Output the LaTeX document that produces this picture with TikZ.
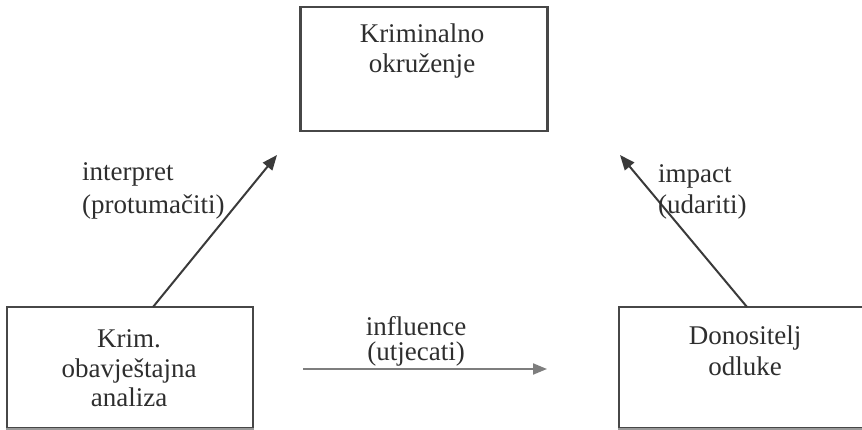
\documentclass[tikz,border=0pt]{standalone}
\usepackage{fontspec}
\setmainfont{Liberation Serif}
\usetikzlibrary{arrows.meta}
\definecolor{ink}{HTML}{2E2E2E}
\definecolor{edge}{HTML}{474747}
\definecolor{lightedge}{HTML}{9A9A9A}
\definecolor{arrowdark}{HTML}{3A3A3A}
\definecolor{arrowgray}{HTML}{7E7E7E}
\tikzset{
  boxnode/.style={draw=edge, line width=2.3pt, rectangle, inner sep=0pt},
  txt/.style={anchor=base, inner sep=0pt, text=ink, font=\fontsize{27}{30}\selectfont},
  lbl/.style={anchor=base west, inner sep=0pt, text=ink, font=\fontsize{27}{30}\selectfont},
  ctrlbl/.style={anchor=base, inner sep=0pt, text=ink, font=\fontsize{27}{30}\selectfont},
  darrow/.style={draw=arrowdark, line width=2pt, -{Triangle[length=15pt,width=12pt]}},
  garrow/.style={draw=arrowgray, line width=2pt, -{Triangle[length=14pt,width=11pt]}},
}
\begin{document}
\begin{tikzpicture}[x=1pt,y=-1pt]
\useasboundingbox (0,0) rectangle (862,430);
% boxes
\node[boxnode, minimum width=247pt, minimum height=124pt] (top) at (424,69) {};
\node[boxnode, minimum width=246pt, minimum height=121pt] (lbox) at (130,367.5) {};
\node[boxnode, minimum width=252pt, minimum height=121pt] (rbox) at (745,367.5) {};
\draw[lightedge, line width=2.3pt] (lbox.south west) -- (lbox.south east);
\draw[lightedge, line width=2.3pt] (rbox.south west) -- (rbox.south east);
% box texts
\node[txt] (top1) at (422,43) {Kriminalno};
\node[txt] (top2) at (422,73) {okruženje};
\node[txt] (l1) at (129,347) {Krim.};
\node[txt] (l2) at (129,377) {obavještajna};
\node[txt] (l3) at (129,406) {analiza};
\node[txt] (r1) at (745,344) {Donositelj};
\node[txt] (r2) at (745,375) {odluke};
% connector ends
\coordinate (ia) at (153,307);
\coordinate (ib) at (277,155);
\coordinate (pa) at (747,307);
\coordinate (pb) at (620,155);
\coordinate (fa) at (303,369);
\coordinate (fb) at (547,369);
% arrows
\draw[darrow] (ia) -- (ib);
\draw[darrow] (pa) -- (pb);
\draw[garrow] (fa) -- (fb);
% labels
\node[lbl] (i1) at (82,181) {interpret};
\node[lbl] (i2) at (82,214) {(protumačiti)};
\node[lbl] (p1) at (658,183) {impact};
\node[lbl] (p2) at (658,214) {(udariti)};
\node[ctrlbl] (f1) at (416,335) {influence};
\node[ctrlbl] (f2) at (416,360) {(utjecati)};
\end{tikzpicture}
\end{document}
